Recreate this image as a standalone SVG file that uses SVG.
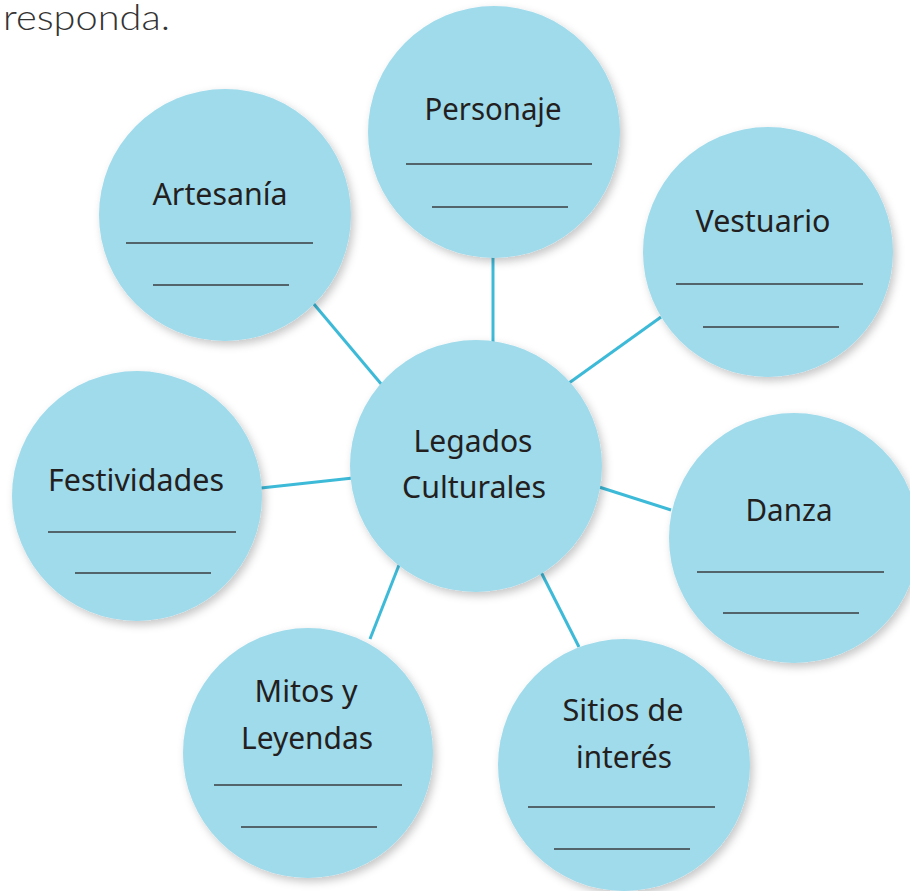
<svg xmlns="http://www.w3.org/2000/svg" width="910" height="891" viewBox="0 0 910 891">
<defs>
<filter id="sh" x="-20%" y="-20%" width="140%" height="140%">
<feDropShadow dx="3" dy="4" stdDeviation="4" flood-color="#000" flood-opacity="0.22"/>
</filter>
<style>
.c{fill:#a0dbec;filter:url(#sh)}
.t{font-family:"Noto Sans","DejaVu Sans",sans-serif;font-size:30px;fill:#231f20;text-anchor:middle}
.b{stroke:#3a3d40;stroke-width:1.6}
.k{stroke:#3dbad8;stroke-width:3;fill:none}
</style>
</defs>
<rect width="910" height="891" fill="#fff"/>
<text x="3" y="30" font-family="Lato, 'Liberation Sans', sans-serif" font-weight="300" font-size="35" fill="#333" textLength="167" lengthAdjust="spacingAndGlyphs">responda.</text>
<g id="connectors">
<line class="k" x1="493" y1="256" x2="493" y2="343"/>
<line class="k" x1="313" y1="303" x2="382" y2="385"/>
<line class="k" x1="661" y1="317" x2="569" y2="383"/>
<line class="k" x1="261" y1="488" x2="353" y2="478"/>
<line class="k" x1="599" y1="487" x2="671" y2="510"/>
<line class="k" x1="399" y1="565" x2="370" y2="639"/>
<line class="k" x1="541" y1="572" x2="579" y2="647"/>
</g>
<g id="personaje">
<circle class="c" cx="494" cy="132" r="126"/>
<text class="t" x="493" y="120" textLength="137" lengthAdjust="spacingAndGlyphs">Personaje</text>
<line class="b" x1="406" y1="164" x2="592" y2="164"/>
<line class="b" x1="432" y1="207" x2="568" y2="207"/>
</g>
<g id="artesania">
<circle class="c" cx="225" cy="215" r="126"/>
<text class="t" x="220" y="205" textLength="135" lengthAdjust="spacingAndGlyphs">Artesanía</text>
<line class="b" x1="126" y1="243" x2="313" y2="243"/>
<line class="b" x1="153" y1="285" x2="289" y2="285"/>
</g>
<g id="vestuario">
<circle class="c" cx="768" cy="252" r="125"/>
<text class="t" x="763" y="232" textLength="135" lengthAdjust="spacingAndGlyphs">Vestuario</text>
<line class="b" x1="676" y1="284" x2="863" y2="284"/>
<line class="b" x1="703" y1="327" x2="839" y2="327"/>
</g>
<g id="festividades">
<circle class="c" cx="137" cy="496" r="125"/>
<text class="t" x="136" y="491" textLength="176" lengthAdjust="spacingAndGlyphs">Festividades</text>
<line class="b" x1="48" y1="532" x2="236" y2="532"/>
<line class="b" x1="75" y1="573" x2="211" y2="573"/>
</g>
<g id="legados">
<circle class="c" cx="476" cy="466" r="126"/>
<text class="t" x="473" y="452" textLength="119" lengthAdjust="spacingAndGlyphs">Legados</text>
<text class="t" x="474" y="498" textLength="144" lengthAdjust="spacingAndGlyphs">Culturales</text>
</g>
<g id="danza">
<circle class="c" cx="794" cy="538" r="125"/>
<text class="t" x="789" y="521" textLength="87" lengthAdjust="spacingAndGlyphs">Danza</text>
<line class="b" x1="697" y1="572" x2="884" y2="572"/>
<line class="b" x1="723" y1="613" x2="859" y2="613"/>
</g>
<g id="mitos">
<circle class="c" cx="308" cy="753" r="125"/>
<text class="t" x="306" y="702" textLength="103" lengthAdjust="spacingAndGlyphs">Mitos y</text>
<text class="t" x="307" y="749" textLength="132" lengthAdjust="spacingAndGlyphs">Leyendas</text>
<line class="b" x1="214" y1="785" x2="402" y2="785"/>
<line class="b" x1="241" y1="827" x2="377" y2="827"/>
</g>
<g id="sitios">
<circle class="c" cx="624" cy="765" r="126"/>
<text class="t" x="623" y="721" textLength="121" lengthAdjust="spacingAndGlyphs">Sitios de</text>
<text class="t" x="624" y="768" textLength="96" lengthAdjust="spacingAndGlyphs">interés</text>
<line class="b" x1="528" y1="807" x2="715" y2="807"/>
<line class="b" x1="554" y1="849" x2="690" y2="849"/>
</g>
</svg>
